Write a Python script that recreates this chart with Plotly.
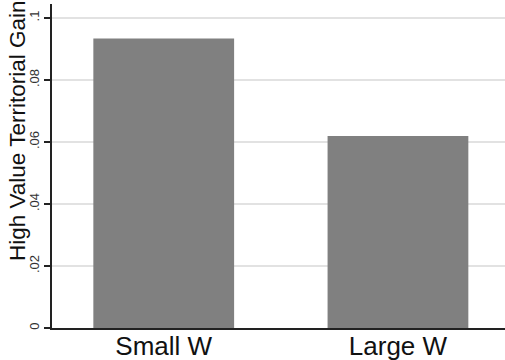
import plotly.graph_objects as go

categories = ["Small W", "Large W"]
values = [0.0934, 0.0619]
y_tickvals = [0, 0.02, 0.04, 0.06, 0.08, 0.1]
y_ticktext = ["0", ".02", ".04", ".06", ".08", ".1"]
y_title = "High Value Territorial Gain"

FONT = "Liberation Sans, Arial, sans-serif"

fig = go.Figure()
fig.add_trace(go.Bar(
    x=categories, y=values, width=0.601,
    marker=dict(color="#808080", line=dict(width=0)),
))

fig.update_layout(
    width=505, height=360,
    margin=dict(l=52, r=0, t=4, b=32, autoexpand=False),
    plot_bgcolor="white", paper_bgcolor="white",
    showlegend=False,
    font=dict(family=FONT, color="#111"),
    xaxis=dict(
        type="category", range=[-0.477, 1.457],
        automargin=False,
        showline=True, linecolor="#222", linewidth=1.5,
        showgrid=False, ticks="", zeroline=False,
        ticklabelstandoff=-6,
        tickfont=dict(size=26, color="#111", family=FONT),
    ),
    yaxis=dict(
        range=[0, 0.1045],
        automargin=False,
        tickvals=y_tickvals, ticktext=y_ticktext,
        tickangle=-90,
        showline=True, linecolor="#222", linewidth=1.5,
        ticks="outside", ticklen=6, tickcolor="#222", tickwidth=1.5,
        showgrid=True, gridcolor="#e2e2e2", gridwidth=1.5,
        zeroline=False,
        tickfont=dict(size=13, color="#333", family=FONT),
    ),
    annotations=[dict(
        text=y_title, textangle=-90,
        xref="paper", yref="paper", x=-0.0773, y=0.611,
        xanchor="center", yanchor="middle", showarrow=False,
        font=dict(size=22.5, color="#111", family=FONT),
    )],
)

fig.write_html(
    "out.html",
    config={"displayModeBar": False},
    post_script="document.body.style.margin='0';document.body.style.overflow='hidden';",
)
